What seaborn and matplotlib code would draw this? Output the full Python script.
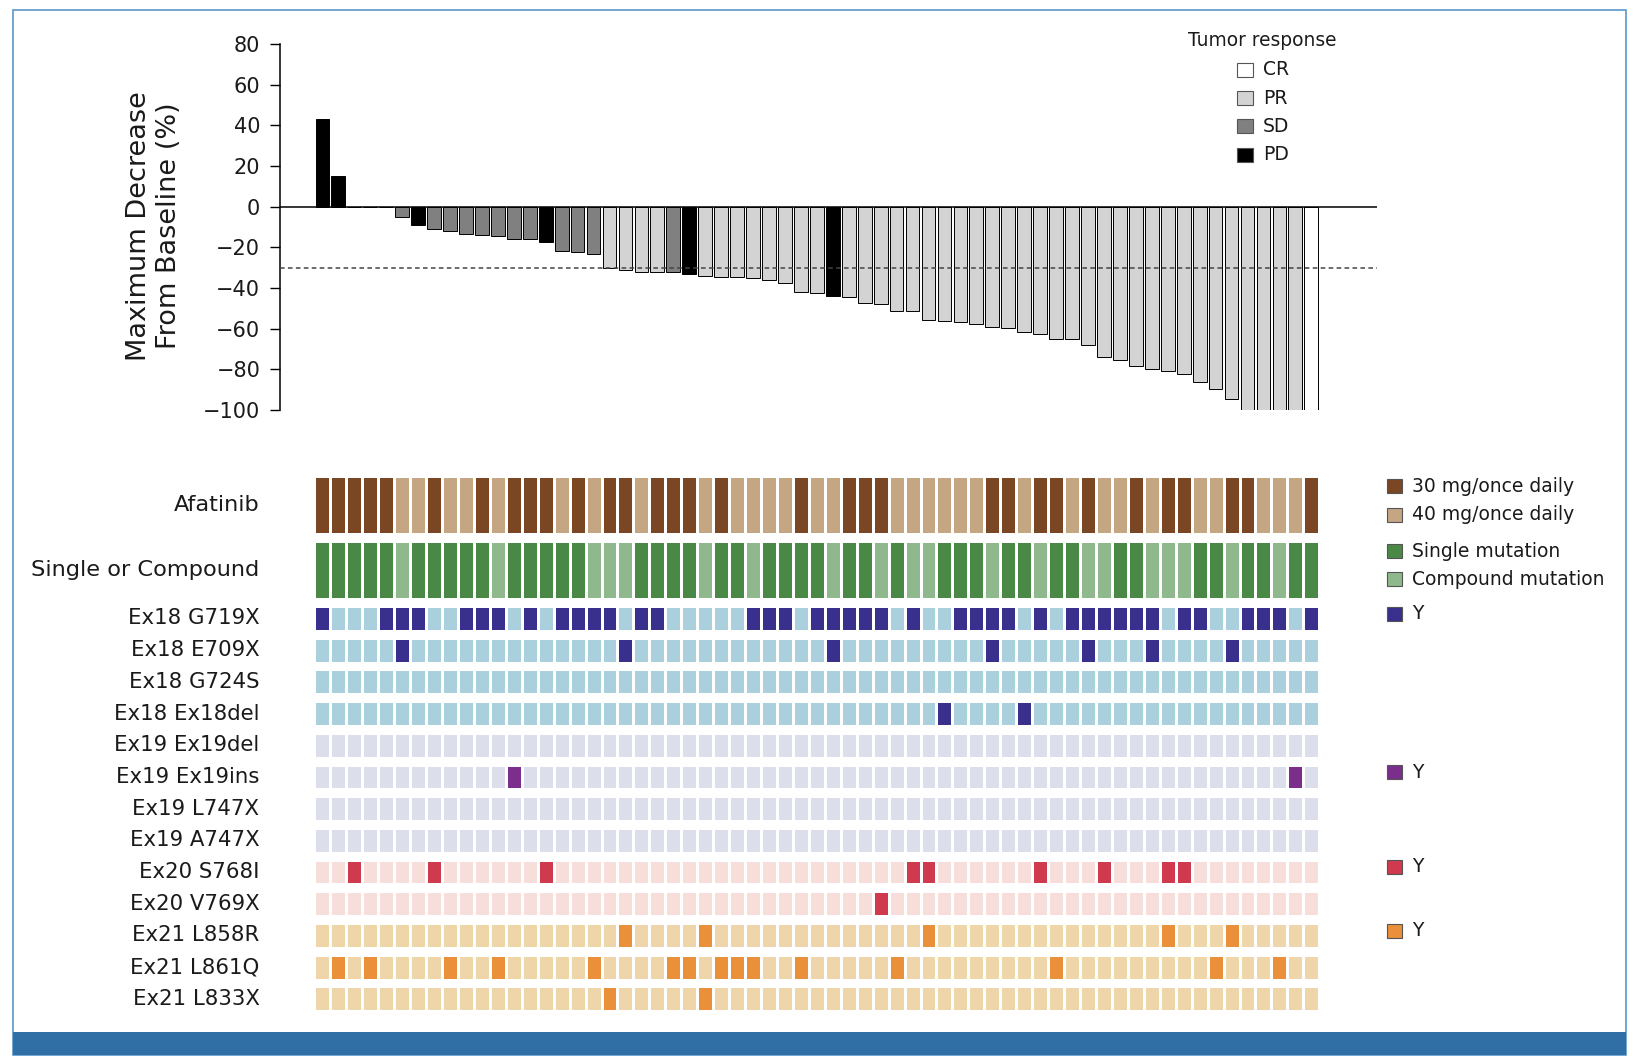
import numpy as np
import pandas as pd
import matplotlib
matplotlib.use("Agg")
import matplotlib.pyplot as plt
import seaborn as sns
from matplotlib.colors import ListedColormap
from matplotlib.patches import Rectangle

# ---------------- data ----------------
patient = list(range(63))
change = [43, 15, 0, 0, 0, -5, -9, -11, -12, -13.5,
          -14, -14.5, -16, -16, -17.5, -22, -22.5, -23.5, -30, -31,
          -32, -32, -32, -33, -34, -34.5, -34.5, -35, -36, -37.5,
          -42, -42.5, -44, -44.5, -47.5, -48, -51.5, -51.5, -55.5, -56,
          -56.5, -57.5, -59, -59.5, -61.5, -62.5, -65, -65, -68, -74,
          -75.5, -78.5, -80, -81, -82.5, -86, -89.5, -94.5, -100, -100,
          -100, -100, -100]
response = ["PD", "PD", "SD", "SD", "SD", "SD", "PD", "SD", "SD", "SD",
            "SD", "SD", "SD", "SD", "PD", "SD", "SD", "SD", "PR", "PR",
            "PR", "PR", "SD", "PD", "PR", "PR", "PR", "PR", "PR", "PR",
            "PR", "PR", "PD", "PR", "PR", "PR", "PR", "PR", "PR", "PR",
            "PR", "PR", "PR", "PR", "PR", "PR", "PR", "PR", "PR", "PR",
            "PR", "PR", "PR", "PR", "PR", "PR", "PR", "PR", "PR", "PR",
            "PR", "PR", "CR"]
response_levels = ["CR", "PR", "SD", "PD"]
response_colors = {"CR": "#ffffff", "PR": "#d3d3d3", "SD": "#808080", "PD": "#000000"}

afatinib_dose = [30, 30, 30, 30, 30, 40, 40, 30, 40, 40,
                 30, 40, 30, 30, 30, 40, 30, 40, 30, 30,
                 40, 30, 30, 30, 40, 30, 40, 40, 40, 40,
                 30, 40, 40, 30, 30, 30, 40, 40, 40, 40,
                 40, 40, 30, 30, 40, 30, 30, 40, 30, 40,
                 40, 30, 40, 30, 30, 40, 40, 30, 30, 40,
                 40, 40, 30]
mutation_kind = list("SSSSSCSSSS" "SCSSSSSCCC" "SSSSCSSCSS"
                     "SSCSSCSCCS" "SSCSSCSSCC" "SSCCCSSCSS" "CSS")

mutation_labels = ["Ex18 G719X", "Ex18 E709X", "Ex18 G724S", "Ex18 Ex18del",
                   "Ex19 Ex19del", "Ex19 Ex19ins", "Ex19 L747X", "Ex19 A747X",
                   "Ex20 S768I", "Ex20 V769X", "Ex21 L858R", "Ex21 L861Q", "Ex21 L833X"]
ex18_g719x = "1000111001 1101011110 1100000111 0111110100 1111010111 1110110011 101"
ex18_e709x = "0000010000 0000000001 0000000000 0010000000 0010000010 0010000100 000"
ex18_g724s = "0000000000 0000000000 0000000000 0000000000 0000000000 0000000000 000"
ex18_del   = "0000000000 0000000000 0000000000 0000000001 0000100000 0000000000 000"
ex19_del   = "0000000000 0000000000 0000000000 0000000000 0000000000 0000000000 000"
ex19_ins   = "0000000000 0010000000 0000000000 0000000000 0000000000 0000000000 010"
ex19_l747x = "0000000000 0000000000 0000000000 0000000000 0000000000 0000000000 000"
ex19_a747x = "0000000000 0000000000 0000000000 0000000000 0000000000 0000000000 000"
ex20_s768i = "0010000100 0000100000 0000000000 0000000110 0000010001 0001100000 000"
ex20_v769x = "0000000000 0000000000 0000000000 0000010000 0000000000 0000000000 000"
ex21_l858r = "0000000000 0000000001 0000100000 0000000010 0000000000 0001000100 000"
ex21_l861q = "0101000010 0100000100 0011011100 1000001000 0000001000 0000001000 100"
ex21_l833x = "0000000000 0000000010 0000100000 0000000000 0000000000 0000000000 000"
mutation_rows = [ex18_g719x, ex18_e709x, ex18_g724s, ex18_del, ex19_del, ex19_ins,
                 ex19_l747x, ex19_a747x, ex20_s768i, ex20_v769x, ex21_l858r,
                 ex21_l861q, ex21_l833x]

# colours (absent, present)
ex18_cols = ["#aad0de", "#38308c"]
ex19_cols = ["#dcdeec", "#7b2e8c"]
ex20_cols = ["#f7dedb", "#d03a4e"]
ex21_cols = ["#eed6aa", "#ea8f3a"]
row_cols = [ex18_cols] * 4 + [ex19_cols] * 4 + [ex20_cols] * 2 + [ex21_cols] * 3
dose_cols = ["#7a4624", "#c4a683"]      # 30, 40
kind_cols = ["#4a8945", "#8fb98d"]      # single, compound

# ---------------- figure ----------------
sns.set_theme(style="white")
plt.rcParams["font.family"] = ["DejaVu Sans"]
TXT = "#1a1a1a"

W, H = 1634, 1064
fig = plt.figure(figsize=(W / 100, H / 100), dpi=100)


def add_ax(l, t, r, b):
    return fig.add_axes([l / W, 1 - b / H, (r - l) / W, (b - t) / H])


def fy(y):
    return 1 - y / H


# frame + bottom band
fig.add_artist(Rectangle((12.5 / W, fy(1054.6)), (1625.6 - 12.5) / W, (1054.6 - 10.4) / H,
                         fill=False, edgecolor="#5b97cc", lw=1.2, transform=fig.transFigure))
fig.add_artist(Rectangle((12.5 / W, fy(1054.6)), (1625.6 - 12.5) / W, 22.9 / H,
                         facecolor="#2f6fa6", edgecolor="none", transform=fig.transFigure))

# ---------------- waterfall ----------------
PITCH = 15.95
C0 = 322.4
ax = add_ax(280, 44, 1377, 410)
bars = pd.DataFrame({"patient": patient, "change": change, "response": response})
sns.barplot(data=bars, x="patient", y="change", hue="response", hue_order=response_levels,
            order=patient, palette=response_colors, dodge=False, width=0.86,
            edgecolor="black", linewidth=0.7, errorbar=None, legend=False, ax=ax)
ax.set_xlim((280 - C0) / PITCH, (1377 - C0) / PITCH)
ax.set_ylim(-100, 80)
ax.set_yticks(list(range(-100, 81, 20)))
ax.set_xticks([])
ax.set_xlabel("")
ax.set_ylabel("")
for s in ["top", "right", "bottom"]:
    ax.spines[s].set_visible(False)
ax.spines["left"].set_color("black")
ax.spines["left"].set_linewidth(1.1)
ax.tick_params(axis="y", left=True, direction="out", length=7.2, width=1.0,
               color="black", labelsize=15, labelcolor=TXT, pad=7.0)
ax.axhline(0, color="black", lw=1.1, zorder=5)
ax.axhline(-30, color="#444444", lw=1.1, ls=(0, (3, 2.2)), zorder=6)
ax.patch.set_alpha(0)

fig.text(154 / W, fy(226), "Maximum Decrease\nFrom Baseline (%)", rotation=90,
         ha="center", va="center", multialignment="center", fontsize=19.5,
         linespacing=1.25, color=TXT)

# ---------------- heatmap rows ----------------
X0 = 314.4
X1 = X0 + 63 * PITCH
GAP = 2.6


def draw_row(values, colors, top, bottom, label, fs):
    a = add_ax(X0, top - GAP / 2, X1, bottom + GAP / 2)
    df = pd.DataFrame([values], columns=patient)
    sns.heatmap(df, ax=a, cmap=ListedColormap(colors), vmin=0, vmax=1, cbar=False,
                linewidths=GAP * 0.72, linecolor="white",
                xticklabels=False, yticklabels=False)
    a.set_xlabel("")
    a.set_ylabel("")
    fig.text(259.5 / W, fy((top + bottom) / 2), label, ha="right", va="center",
             fontsize=fs, color=TXT)


draw_row([0 if d == 30 else 1 for d in afatinib_dose], dose_cols, 477.3, 532.3, "Afatinib", 16.1)
draw_row([0 if k == "S" else 1 for k in mutation_kind], kind_cols, 542.3, 597.3,
         "Single or Compound", 16.2)
for k, (lab, row, cols) in enumerate(zip(mutation_labels, mutation_rows, row_cols)):
    vals = [int(c) for c in row.replace(" ", "")]
    top = 607.3 + 31.7 * k
    draw_row(vals, cols, top, top + 22.3, lab, 15.3)

# ---------------- legends ----------------
def box(x, yc, color, w=15.5, h=14):
    fig.add_artist(Rectangle((x / W, fy(yc + h / 2)), w / W, h / H, facecolor=color,
                             edgecolor="#555555", lw=0.8, transform=fig.transFigure))


fig.text(1188 / W, fy(41), "Tumor response", ha="left", va="center", fontsize=13.4, color=TXT)
for lev, yc in zip(response_levels, [69.7, 98.0, 126.3, 154.7]):
    box(1237.3, yc, response_colors[lev])
    fig.text(1262.7 / W, fy(yc), lev, ha="left", va="center", fontsize=13.5, color=TXT)

right_entries = [("30 mg/once daily", dose_cols[0], 486.3),
                 ("40 mg/once daily", dose_cols[1], 514.7),
                 ("Single mutation", kind_cols[0], 551.3),
                 ("Compound mutation", kind_cols[1], 579.3),
                 ("Y", ex18_cols[1], 613.8),
                 ("Y", ex19_cols[1], 772.2),
                 ("Y", ex20_cols[1], 867.0),
                 ("Y", ex21_cols[1], 930.6)]
for lab, col, yc in right_entries:
    box(1386.7, yc, col)
    fig.text(1411.7 / W, fy(yc), lab, ha="left", va="center", fontsize=13.5, color=TXT)

fig.savefig("out.png", dpi=100)
